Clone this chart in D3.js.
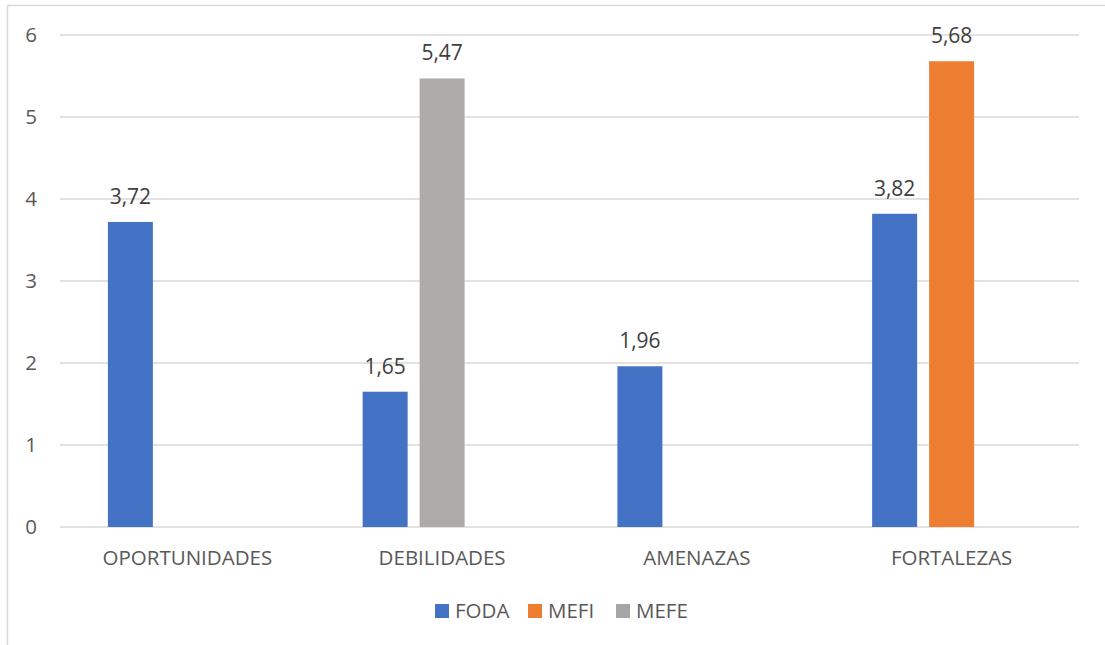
<!DOCTYPE html>
<html>
<head>
<meta charset="utf-8">
<script src="https://cdn.jsdelivr.net/npm/d3@7"></script>
<style>
  body { margin: 0; background: #fff; }
  svg { display: block; font-family: "Open Sans", sans-serif; }
</style>
</head>
<body>
<svg width="1105" height="645"></svg>
<script>
// data
const categories = ["OPORTUNIDADES", "DEBILIDADES", "AMENAZAS", "FORTALEZAS"];
const seriesNames = ["FODA", "MEFI", "MEFE"];
const fodaValues = [3.72, 1.65, 1.96, 3.82];
const mefiValues = [null, null, null, 5.68];
const mefeValues = [null, 5.47, null, null];
// MEFI and MEFE share the second slot of each group (as in the original sheet)
const seriesSlot = [0, 1, 1];
const barColors = ["#4472C4", "#ED7D31", "#AEAAAA"];
const legendColors = ["#4472C4", "#ED7D31", "#A5A5A5"];
const yTicks = [0, 1, 2, 3, 4, 5, 6];

const allSeries = [fodaValues, mefiValues, mefeValues];

let svg = d3.select("svg");

const area = { left: 60, right: 1079, top: 35, bottom: 527 };
const fontSize = "20.5px";

// frame (only top/left visible in the crop)
svg.append("path")
    .attr("d", `M7.5,645 L7.5,5.5 L1105,5.5`)
    .attr("fill", "none")
    .attr("stroke", "#D9D9D9")
    .attr("stroke-width", 1.5);

let scaleX = d3.scaleBand()
    .domain(categories)
    .range([area.left, area.right])
    .paddingInner(0.376)
    .paddingOuter(0.188);

let scaleSlot = d3.scaleBand()
    .domain([0, 1, 2])
    .range([0, scaleX.bandwidth()])
    .paddingInner(0.2105);

let scaleY = d3.scaleLinear()
    .domain([0, 6])
    .range([area.bottom, area.top]);

// gridlines
svg.append("g")
    .selectAll("line")
    .data(yTicks)
    .enter()
    .append("line")
    .attr("x1", area.left)
    .attr("x2", area.right)
    .attr("y1", d => scaleY(d))
    .attr("y2", d => scaleY(d))
    .attr("stroke", "#D9D9D9")
    .attr("stroke-width", 1.5);

// y labels
svg.append("g")
    .selectAll("text")
    .data(yTicks)
    .enter()
    .append("text")
    .attr("x", 37)
    .attr("y", d => scaleY(d))
    .attr("dy", "0.35em")
    .attr("text-anchor", "end")
    .attr("fill", "#595959")
    .style("font-size", fontSize)
    .text(d => d);

// x labels
svg.append("g")
    .selectAll("text")
    .data(categories)
    .enter()
    .append("text")
    .attr("x", d => scaleX(d) + scaleX.bandwidth() / 2)
    .attr("y", 565)
    .attr("text-anchor", "middle")
    .attr("fill", "#595959")
    .style("font-size", fontSize)
    .text(d => d);

// bars
let bars = [];
allSeries.forEach((vals, si) => {
    vals.forEach((v, ci) => {
        if (v !== null) bars.push({ cat: categories[ci], value: v, series: si });
    });
});

svg.append("g")
    .selectAll("rect")
    .data(bars)
    .enter()
    .append("rect")
    .attr("x", d => scaleX(d.cat) + scaleSlot(seriesSlot[d.series]))
    .attr("y", d => scaleY(d.value))
    .attr("width", scaleSlot.bandwidth())
    .attr("height", d => scaleY(0) - scaleY(d.value))
    .attr("fill", d => barColors[d.series]);

// data labels
svg.append("g")
    .selectAll("text")
    .data(bars)
    .enter()
    .append("text")
    .attr("x", d => scaleX(d.cat) + scaleSlot(seriesSlot[d.series]) + scaleSlot.bandwidth() / 2)
    .attr("y", d => scaleY(d.value) - 18)
    .attr("text-anchor", "middle")
    .attr("fill", "#404040")
    .style("font-size", "21px")
    .text(d => d3.format(".2f")(d.value).replace(".", ","));

// legend
const legendX = [435, 528, 616];
let legend = svg.append("g")
    .selectAll("g")
    .data(seriesNames)
    .enter()
    .append("g")
    .attr("transform", (d, i) => `translate(${legendX[i]}, 604)`);

legend.append("rect")
    .attr("width", 14)
    .attr("height", 14)
    .attr("fill", (d, i) => legendColors[i]);

legend.append("text")
    .attr("x", 20)
    .attr("y", 14)
    .attr("fill", "#595959")
    .style("font-size", fontSize)
    .text(d => d);
</script>
</body>
</html>
